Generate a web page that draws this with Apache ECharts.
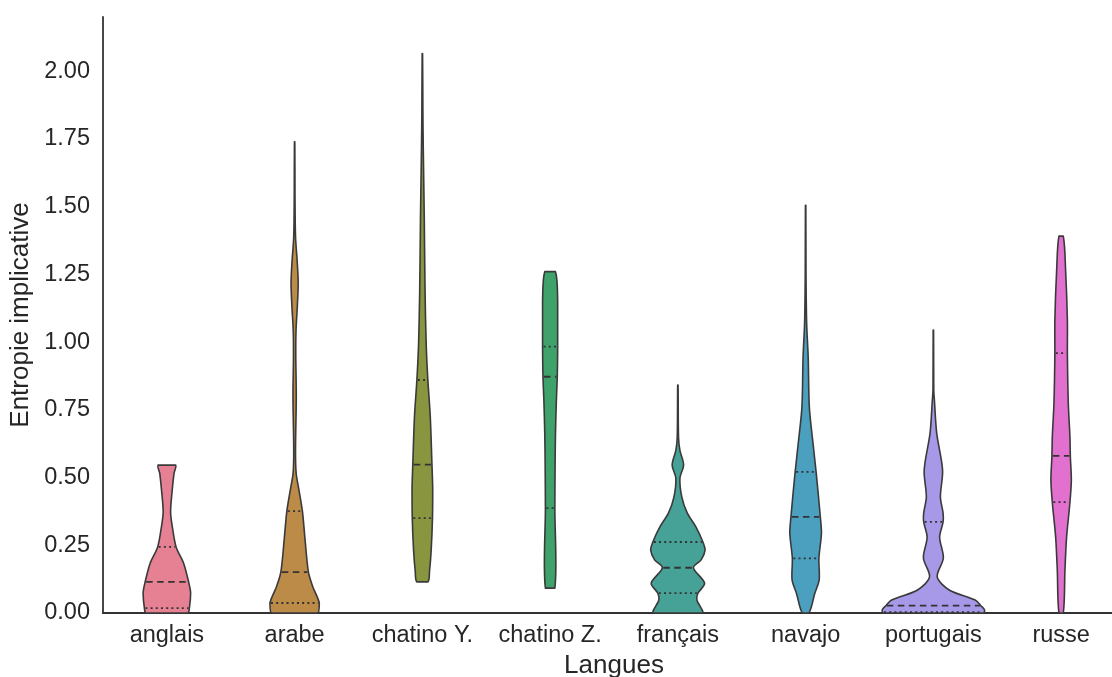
<!DOCTYPE html>
<html>
<head>
<meta charset="utf-8">
<script src="https://cdn.jsdelivr.net/npm/echarts@6/dist/echarts.min.js"></script>
<style>html,body{margin:0;padding:0;background:#fff}#c{width:1112px;height:677px}</style>
</head>
<body>
<div id="c"></div>
<script>
// Categories
const languages = ['anglais', 'arabe', 'chatino Y.', 'chatino Z.', 'français', 'navajo', 'portugais', 'russe'];
const colors = ['#e68194', '#bd8b48', '#8a963f', '#3fa26b', '#46a197', '#4ba0c0', '#a898e8', '#e170cf'];

// Density profiles: [value, half-width as fraction of category band]
const anglaisProfile = [[0,0.163],[0.018,0.176],[0.074,0.186],[0.115,0.170],[0.184,0.131],[0.244,0.072],[0.317,0.043],[0.373,0.029],[0.454,0.042],[0.516,0.056],[0.546,0.068]];
const arabeProfile = [[0,0.182],[0.037,0.193],[0.096,0.143],[0.151,0.108],[0.269,0.082],[0.376,0.061],[0.454,0.034],[0.516,0.012],[0.6,0.007],[0.8,0.013],[0.95,0.009],[1.044,0.011],[1.13,0.021],[1.217,0.028],[1.3,0.020],[1.39,0.007],[1.535,0.003],[1.739,0.0015]];
const chatinoYProfile = [[0.115,0.043],[0.155,0.056],[0.232,0.069],[0.35,0.079],[0.457,0.081],[0.548,0.075],[0.723,0.062],[0.86,0.043],[0.989,0.030],[1.188,0.021],[1.452,0.015],[1.716,0.007],[1.85,0.004],[2.065,0.0015]];
const chatinoZProfile = [[0.092,0.037],[0.387,0.037],[0.55,0.039],[0.664,0.042],[0.786,0.049],[0.872,0.056],[0.983,0.059],[1.155,0.059],[1.26,0.042]];
const francaisProfile = [[0,0.190],[0.048,0.149],[0.073,0.157],[0.11,0.209],[0.167,0.122],[0.196,0.182],[0.232,0.213],[0.262,0.196],[0.318,0.141],[0.369,0.074],[0.428,0.031],[0.498,0.016],[0.546,0.045],[0.6,0.016],[0.65,0.005],[0.841,0.0015]];
const navajoProfile = [[0,0.026],[0.073,0.072],[0.122,0.106],[0.202,0.104],[0.295,0.124],[0.355,0.115],[0.521,0.082],[0.638,0.055],[0.76,0.029],[0.945,0.020],[1.07,0.008],[1.25,0.003],[1.505,0.0015]];
const portugaisProfile = [[0,0.392],[0.011,0.401],[0.027,0.372],[0.048,0.327],[0.085,0.124],[0.133,0.030],[0.203,0.078],[0.28,0.049],[0.336,0.076],[0.369,0.076],[0.428,0.055],[0.528,0.072],[0.664,0.026],[0.786,0.008],[0.823,0.003],[1.044,0.0015]];
const russeProfile = [[0,0.017],[0.159,0.030],[0.281,0.043],[0.409,0.069],[0.491,0.080],[0.58,0.072],[0.65,0.069],[0.775,0.056],[0.959,0.049],[1.081,0.049],[1.266,0.035],[1.391,0.017]];

// Quartiles
const q1 = [0.018, 0.037, 0.35, 0.387, 0.073, 0.202, 0.003, 0.409];
const medians = [0.115, 0.151, 0.548, 0.872, 0.167, 0.355, 0.027, 0.58];
const q3 = [0.244, 0.376, 0.86, 0.983, 0.262, 0.521, 0.336, 0.959];

// Y ticks
const yTicks = [0, 0.25, 0.5, 0.75, 1.0, 1.25, 1.5, 1.75, 2.0];

const profiles = [anglaisProfile, arabeProfile, chatinoYProfile, chatinoZProfile, francaisProfile, navajoProfile, portugaisProfile, russeProfile];

function widthAt(profile, v) {
  for (let i = 0; i < profile.length - 1; i++) {
    const a = profile[i], b = profile[i + 1];
    if (v >= a[0] && v <= b[0]) {
      const t = (v - a[0]) / (b[0] - a[0] || 1);
      return a[1] + t * (b[1] - a[1]);
    }
  }
  return profile[0][1];
}

const chart = echarts.init(document.getElementById('c'), null, {renderer: 'canvas'});
const FONT = '"Liberation Sans", Arial, sans-serif';

function renderItem(params, api) {
  const idx = params.dataIndex;
  const profile = profiles[idx];
  const band = api.size([1, 0])[0];
  const cx = api.coord([idx, 0])[0];
  const right = [], left = [];
  profile.forEach(p => {
    const y = api.coord([idx, p[0]])[1];
    right.push([cx + p[1] * band, y]);
  });
  for (let i = profile.length - 1; i >= 0; i--) {
    const p = profile[i];
    const y = api.coord([idx, p[0]])[1];
    left.push([cx - p[1] * band, y]);
  }
  const pts = right.concat(left);
  let minX = Infinity, minY = Infinity, maxX = -Infinity, maxY = -Infinity;
  pts.forEach(p => { minX = Math.min(minX, p[0]); maxX = Math.max(maxX, p[0]); minY = Math.min(minY, p[1]); maxY = Math.max(maxY, p[1]); });
  const children = [{
    type: 'polygon',
    shape: {points: pts, smooth: 0.3, smoothConstraint: [[minX, minY], [maxX, maxY]]},
    style: {fill: colors[idx], stroke: '#3a3a3a', lineWidth: 1.6, lineJoin: 'round'}
  }];
  const qs = [[q1[idx], [2, 3.2]], [medians[idx], [6.5, 4.5]], [q3[idx], [2, 3.2]]];
  qs.forEach(q => {
    const w = widthAt(profile, q[0]) * band;
    const y = api.coord([idx, q[0]])[1];
    children.push({
      type: 'line',
      shape: {x1: cx - w + 1, y1: y, x2: cx + w - 1, y2: y},
      style: {stroke: '#333333', lineWidth: 1.8, lineDash: q[1]}
    });
  });
  return {type: 'group', children};
}

chart.setOption({
  animation: false,
  backgroundColor: '#ffffff',
  grid: {left: 103, width: 1022, top: 17, bottom: 64, containLabel: false, outerBoundsMode: 'none'},
  xAxis: {
    type: 'category',
    data: languages,
    boundaryGap: true,
    name: 'Langues',
    nameLocation: 'middle',
    nameGap: 37,
    nameTextStyle: {fontFamily: FONT, fontSize: 26, color: '#262626'},
    axisLine: {lineStyle: {color: '#333333', width: 1.8}},
    axisTick: {show: false},
    axisLabel: {fontFamily: FONT, fontSize: 23.5, color: '#262626', margin: 11, interval: 0, hideOverlap: false},
    splitLine: {show: false}
  },
  yAxis: {
    type: 'value',
    min: 0,
    max: 2.2,
    interval: 0.25,
    name: 'Entropie implicative',
    nameLocation: 'middle',
    nameGap: 68,
    nameTextStyle: {fontFamily: FONT, fontSize: 26, color: '#262626'},
    axisLine: {show: true, lineStyle: {color: '#333333', width: 1.8}},
    axisTick: {show: false},
    splitLine: {show: false},
    axisLabel: {
      fontFamily: FONT, fontSize: 23.5, color: '#262626', margin: 13,
      showMaxLabel: false,
      formatter: v => yTicks.some(t => Math.abs(t - v) < 1e-9) ? v.toFixed(2) : ''
    }
  },
  series: [{
    type: 'custom',
    renderItem: renderItem,
    data: languages.map((l, i) => [i]),
    encode: {x: 0},
    clip: false
  }]
});
</script>
</body>
</html>
